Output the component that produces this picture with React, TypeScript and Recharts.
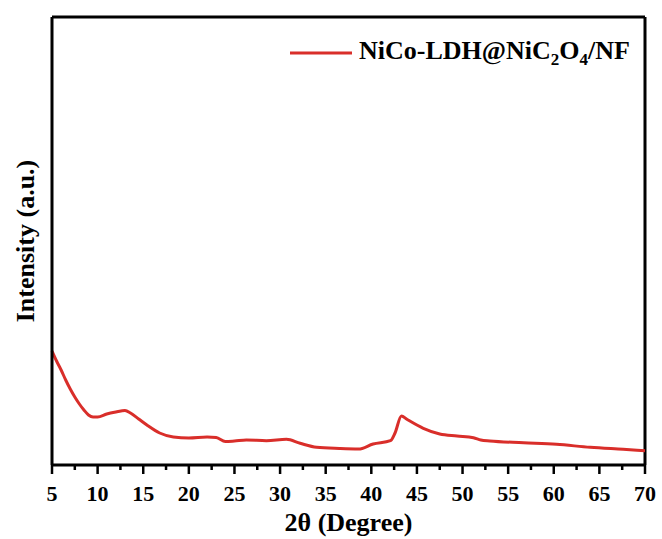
import React from "react";
import {
  LineChart,
  Line,
  XAxis,
  YAxis,
  ReferenceLine,
  Legend,
} from "recharts";

// 2θ positions (degrees)
const twoTheta = [
  5, 5.5, 6, 6.5, 7, 7.5, 8, 8.5, 9, 9.5, 10, 11, 12, 13, 13.6, 14.5, 15.4,
  16.8, 18.3, 20, 22, 23, 24, 25, 26.3, 28.5, 30.7, 32.2, 34, 36.5, 38.6, 40.2,
  42.1, 42.6, 43.3, 43.9, 45.7, 47.5, 49.4, 51.2, 52, 53, 56.7, 60.3, 64, 67.6,
  70,
];

// intensity (a.u., arbitrary scale)
const intensity = [
  114, 104, 95, 85, 76, 68, 61, 55, 50, 48, 48, 51, 53, 54.5, 52, 46, 40, 32,
  28, 27, 28, 27.5, 23.5, 24, 25, 24.3, 25.7, 21.7, 17.7, 16.5, 16, 21, 24.3,
  32, 49, 45.7, 36.7, 31, 29, 27.3, 25, 24, 22.3, 20.7, 17.7, 15.7, 14.3,
];

const xTicks = [5, 10, 15, 20, 25, 30, 35, 40, 45, 50, 55, 60, 65, 70];
const allTicks = [
  5, 7.5, 10, 12.5, 15, 17.5, 20, 22.5, 25, 27.5, 30, 32.5, 35, 37.5, 40, 42.5,
  45, 47.5, 50, 52.5, 55, 57.5, 60, 62.5, 65, 67.5, 70,
];

const seriesName = "NiCo-LDH@NiC2O4/NF";

const data = twoTheta.map((t, i) => ({ t, v: intensity[i] }));

const FONT = "'Liberation Serif', 'Times New Roman', serif";
const RED = "#d92e2a";

function XTick(props: any) {
  const { x, y, payload } = props;
  const major = xTicks.includes(payload.value);
  return (
    <g>
      <line x1={x} x2={x} y1={y} y2={y + (major ? 9 : 5)} stroke="#000" strokeWidth={2.5} />
      {major && (
        <text
          x={x}
          y={y + 36}
          textAnchor="middle"
          fontFamily={FONT}
          fontWeight="bold"
          fontSize={22}
          fill="#000"
        >
          {payload.value}
        </text>
      )}
    </g>
  );
}

function LegendBox() {
  return (
    <div style={{ display: "flex", alignItems: "center", fontFamily: FONT }}>
      <svg width={64} height={6} style={{ marginRight: 5 }}>
        <line x1={0} x2={62} y1={3} y2={3} stroke={RED} strokeWidth={3} />
      </svg>
      <span style={{ fontWeight: "bold", fontSize: 26, color: "#000", whiteSpace: "nowrap" }}>
        NiCo-LDH@NiC<sub style={{ fontSize: 17 }}>2</sub>O<sub style={{ fontSize: 17 }}>4</sub>/NF
      </span>
    </div>
  );
}

export default function App() {
  return (
    <div style={{ position: "absolute", left: 0, top: 0, width: 662, height: 539, background: "#fff" }}>
      <LineChart
        width={662}
        height={539}
        data={data}
        margin={{ top: 17, right: 17, left: 0, bottom: 14 }}
      >
        <XAxis
          dataKey="t"
          type="number"
          domain={[5, 70]}
          ticks={allTicks}
          interval={0}
          tickSize={0}
          tickMargin={0}
          tickLine={false}
          tick={<XTick />}
          height={60}
          axisLine={{ stroke: "#000", strokeWidth: 3 }}
          label={{
            value: "2θ (Degree)",
            position: "insideBottom",
            offset: -6,
            style: { fontFamily: FONT, fontWeight: "bold", fontSize: 26, fill: "#000" },
          }}
        />
        <YAxis
          type="number"
          domain={[0, 448]}
          width={52}
          tick={false}
          tickLine={false}
          axisLine={{ stroke: "#000", strokeWidth: 3 }}
          label={{
            value: "Intensity (a.u.)",
            angle: -90,
            position: "insideLeft",
            offset: 25,
            style: {
              fontFamily: FONT,
              fontWeight: "bold",
              fontSize: 26,
              fill: "#000",
              textAnchor: "middle",
            },
          }}
        />
        <ReferenceLine y={448} stroke="#000" strokeWidth={3} />
        <ReferenceLine x={70} stroke="#000" strokeWidth={3} />
        <Legend
          content={<LegendBox />}
          layout="horizontal"
          verticalAlign="middle"
          align="center"
          wrapperStyle={{ top: 36, left: 290, width: "auto" }}
        />
        <Line
          name={seriesName}
          type="monotone"
          dataKey="v"
          stroke={RED}
          strokeWidth={3}
          dot={false}
          isAnimationActive={false}
        />
      </LineChart>
    </div>
  );
}
